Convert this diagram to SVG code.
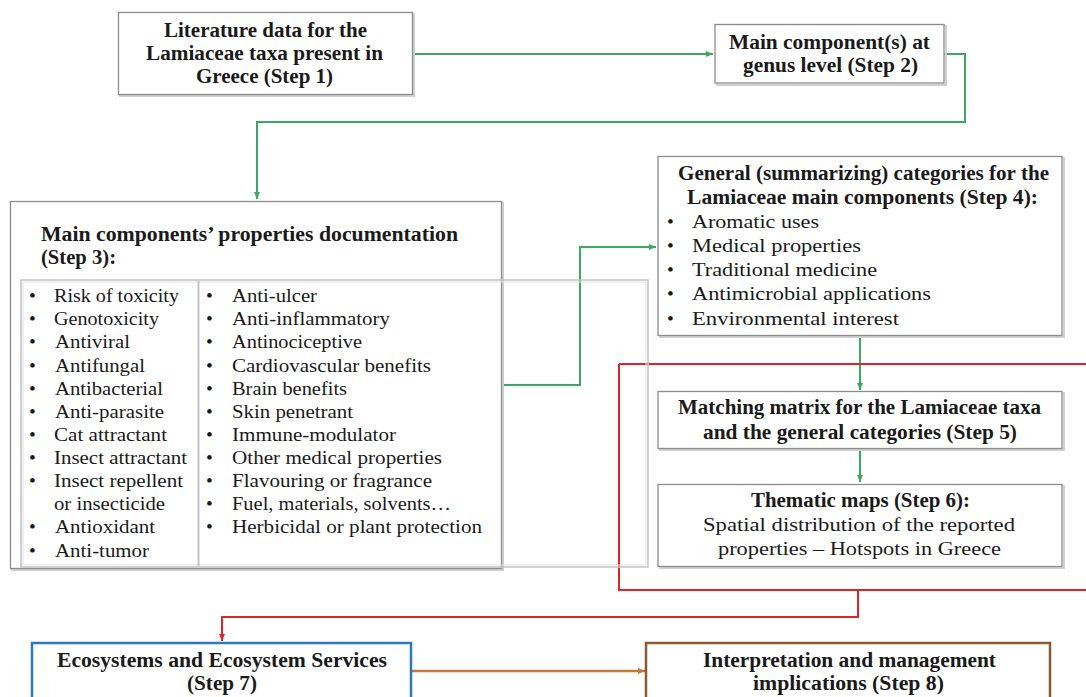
<svg xmlns="http://www.w3.org/2000/svg" width="1086" height="697" viewBox="0 0 1086 697">
<defs>
<style>
.box{fill:#fff;stroke:#8c8c8c;stroke-width:1.3}
.shadow{fill:none;stroke:#d0d0d0;stroke-width:2}
.b{font-family:"Liberation Serif","Times New Roman",serif;font-weight:bold;font-size:20.5px;fill:#1a1a1a}
.r{font-family:"Liberation Serif","Times New Roman",serif;font-size:19.5px;fill:#1a1a1a}
.g{fill:none;stroke:#3aa860;stroke-width:2}
.red{fill:none;stroke:#e02424;stroke-width:2}
.br{fill:none;stroke:#c07a3c;stroke-width:2.5}
</style>
<marker id="ag" markerWidth="8" markerHeight="8" refX="7" refY="4" orient="auto" markerUnits="userSpaceOnUse"><path d="M0,1 L7,4 L0,7 Z" fill="#3aa860"/></marker>
<marker id="ar" markerWidth="8" markerHeight="8" refX="7" refY="4" orient="auto" markerUnits="userSpaceOnUse"><path d="M0,1 L7,4 L0,7 Z" fill="#e02424"/></marker>
<marker id="ab" markerWidth="8" markerHeight="8" refX="7" refY="4" orient="auto" markerUnits="userSpaceOnUse"><path d="M0,1 L7,4 L0,7 Z" fill="#c07a3c"/></marker>
</defs>
<rect width="1086" height="697" fill="#fff"/>

<g id="connectors">
<path class="g" d="M413,54 H713" marker-end="url(#ag)"/>
<path class="g" d="M944,54 H965 V122 H257 V199" marker-end="url(#ag)"/>
<path class="g" d="M502,385 H580 V247 H656" marker-end="url(#ag)"/>
<path class="g" d="M860,336 V390" marker-end="url(#ag)"/>
<path class="g" d="M860,449 V482" marker-end="url(#ag)"/>
<path class="red" d="M619,364 H1090 M619,364 V590 H1090"/>
<path class="red" d="M858,590 V617 H222 V641" marker-end="url(#ar)"/>
<path class="br" d="M411,671 H645" marker-end="url(#ab)"/>
</g>

<g id="step1">
<rect class="shadow" x="120" y="14" width="294" height="82"/>
<rect class="box" x="118.5" y="12.5" width="294" height="82"/>
<text class="b" x="164" y="37" textLength="203" lengthAdjust="spacingAndGlyphs">Literature data for the</text>
<text class="b" x="146" y="60" textLength="237" lengthAdjust="spacingAndGlyphs">Lamiaceae taxa present in</text>
<text class="b" x="196" y="83" textLength="137" lengthAdjust="spacingAndGlyphs">Greece (Step 1)</text>
</g>

<g id="step2">
<rect class="shadow" x="717" y="26" width="229" height="59"/>
<rect class="box" x="715" y="24.5" width="229" height="58.5"/>
<text class="b" x="729" y="48.5" textLength="201" lengthAdjust="spacingAndGlyphs">Main component(s) at</text>
<text class="b" x="743" y="72" textLength="175" lengthAdjust="spacingAndGlyphs">genus level (Step 2)</text>
</g>

<g id="step3">
<rect class="shadow" x="12" y="203" width="491" height="367"/>
<rect class="box" x="10.5" y="201.5" width="491" height="367"/>
<text class="b" x="41" y="241" textLength="417" lengthAdjust="spacingAndGlyphs">Main components’ properties documentation</text>
<text class="b" x="41" y="264" textLength="75" lengthAdjust="spacingAndGlyphs">(Step 3):</text>
<rect x="21" y="280" width="627" height="287" fill="none" stroke="#c4c4c4" stroke-width="1.5"/>
<rect x="23" y="282" width="623" height="283" fill="none" stroke="#e2e2e2" stroke-width="1"/>
<line x1="198.5" y1="281" x2="198.5" y2="566" stroke="#c4c4c4" stroke-width="2"/>
<g class="r">
<text x="29" y="302">•</text><text x="54" y="302" textLength="125" lengthAdjust="spacingAndGlyphs">Risk of toxicity</text>
<text x="29" y="325">•</text><text x="54" y="325" textLength="105" lengthAdjust="spacingAndGlyphs">Genotoxicity</text>
<text x="29" y="348">•</text><text x="55" y="348" textLength="75" lengthAdjust="spacingAndGlyphs">Antiviral</text>
<text x="29" y="371.5">•</text><text x="55" y="371.5" textLength="90" lengthAdjust="spacingAndGlyphs">Antifungal</text>
<text x="29" y="395">•</text><text x="55" y="395" textLength="108" lengthAdjust="spacingAndGlyphs">Antibacterial</text>
<text x="29" y="418">•</text><text x="55" y="418" textLength="109" lengthAdjust="spacingAndGlyphs">Anti-parasite</text>
<text x="29" y="441">•</text><text x="54" y="441" textLength="113" lengthAdjust="spacingAndGlyphs">Cat attractant</text>
<text x="29" y="464">•</text><text x="54" y="464" textLength="133" lengthAdjust="spacingAndGlyphs">Insect attractant</text>
<text x="29" y="487">•</text><text x="54" y="487" textLength="129" lengthAdjust="spacingAndGlyphs">Insect repellent</text>
<text x="54" y="510" textLength="111" lengthAdjust="spacingAndGlyphs">or insecticide</text>
<text x="29" y="533">•</text><text x="55" y="533" textLength="100" lengthAdjust="spacingAndGlyphs">Antioxidant</text>
<text x="29" y="556.5">•</text><text x="55" y="556.5" textLength="94" lengthAdjust="spacingAndGlyphs">Anti-tumor</text>

<text x="206" y="302">•</text><text x="232" y="302" textLength="85" lengthAdjust="spacingAndGlyphs">Anti-ulcer</text>
<text x="206" y="325">•</text><text x="232" y="325" textLength="158" lengthAdjust="spacingAndGlyphs">Anti-inflammatory</text>
<text x="206" y="348">•</text><text x="232" y="348" textLength="130" lengthAdjust="spacingAndGlyphs">Antinociceptive</text>
<text x="206" y="371.5">•</text><text x="232" y="371.5" textLength="199" lengthAdjust="spacingAndGlyphs">Cardiovascular benefits</text>
<text x="206" y="395">•</text><text x="232" y="395" textLength="115" lengthAdjust="spacingAndGlyphs">Brain benefits</text>
<text x="206" y="418">•</text><text x="232" y="418" textLength="121" lengthAdjust="spacingAndGlyphs">Skin penetrant</text>
<text x="206" y="441">•</text><text x="232" y="441" textLength="164" lengthAdjust="spacingAndGlyphs">Immune-modulator</text>
<text x="206" y="464">•</text><text x="232" y="464" textLength="210" lengthAdjust="spacingAndGlyphs">Other medical properties</text>
<text x="206" y="487">•</text><text x="232" y="487" textLength="200" lengthAdjust="spacingAndGlyphs">Flavouring or fragrance</text>
<text x="206" y="510">•</text><text x="232" y="510" textLength="219" lengthAdjust="spacingAndGlyphs">Fuel, materials, solvents…</text>
<text x="206" y="533">•</text><text x="232" y="533" textLength="250" lengthAdjust="spacingAndGlyphs">Herbicidal or plant protection</text>
</g>
</g>

<g id="step4">
<rect class="shadow" x="660" y="158" width="404" height="179"/>
<rect class="box" x="658" y="156.5" width="404" height="179"/>
<text class="b" x="678" y="179.5" textLength="371" lengthAdjust="spacingAndGlyphs">General (summarizing) categories for the</text>
<text class="b" x="687" y="203.5" textLength="351" lengthAdjust="spacingAndGlyphs">Lamiaceae main components (Step 4):</text>
<g class="r">
<text x="667" y="227.5">•</text><text x="692" y="227.5" textLength="127" lengthAdjust="spacingAndGlyphs">Aromatic uses</text>
<text x="667" y="252">•</text><text x="692" y="252" textLength="169" lengthAdjust="spacingAndGlyphs">Medical properties</text>
<text x="667" y="276">•</text><text x="692" y="276" textLength="185" lengthAdjust="spacingAndGlyphs">Traditional medicine</text>
<text x="667" y="300">•</text><text x="692" y="300" textLength="239" lengthAdjust="spacingAndGlyphs">Antimicrobial applications</text>
<text x="667" y="324.5">•</text><text x="692" y="324.5" textLength="207" lengthAdjust="spacingAndGlyphs">Environmental interest</text>
</g>
</g>

<g id="step5">
<rect class="shadow" x="660" y="393" width="404" height="57"/>
<rect class="box" x="658" y="391.5" width="404" height="57"/>
<text class="b" x="678" y="413.5" textLength="363" lengthAdjust="spacingAndGlyphs">Matching matrix for the Lamiaceae taxa</text>
<text class="b" x="703" y="438.5" textLength="314" lengthAdjust="spacingAndGlyphs">and the general categories (Step 5)</text>
</g>

<g id="step6">
<rect class="shadow" x="660" y="486" width="404" height="82"/>
<rect class="box" x="658" y="484.5" width="404" height="82"/>
<text class="b" x="751" y="507" textLength="219" lengthAdjust="spacingAndGlyphs">Thematic maps (Step 6):</text>
<text class="r" x="703" y="531" textLength="312" lengthAdjust="spacingAndGlyphs">Spatial distribution of the reported</text>
<text class="r" x="718" y="555" textLength="283" lengthAdjust="spacingAndGlyphs">properties – Hotspots in Greece</text>
</g>

<g id="step7">
<rect x="32" y="643" width="379" height="70" fill="#fff" stroke="#2f78bf" stroke-width="2.5"/>
<text class="b" x="57" y="667" textLength="330" lengthAdjust="spacingAndGlyphs">Ecosystems and Ecosystem Services</text>
<text class="b" x="187" y="690" textLength="70" lengthAdjust="spacingAndGlyphs">(Step 7)</text>
</g>

<g id="step8">
<rect x="646" y="643" width="404" height="70" fill="#fff" stroke="#8c5a32" stroke-width="2.5"/>
<text class="b" x="703" y="667" textLength="293" lengthAdjust="spacingAndGlyphs">Interpretation and management</text>
<text class="b" x="753" y="689.5" textLength="191" lengthAdjust="spacingAndGlyphs">implications (Step 8)</text>
</g>
</svg>
